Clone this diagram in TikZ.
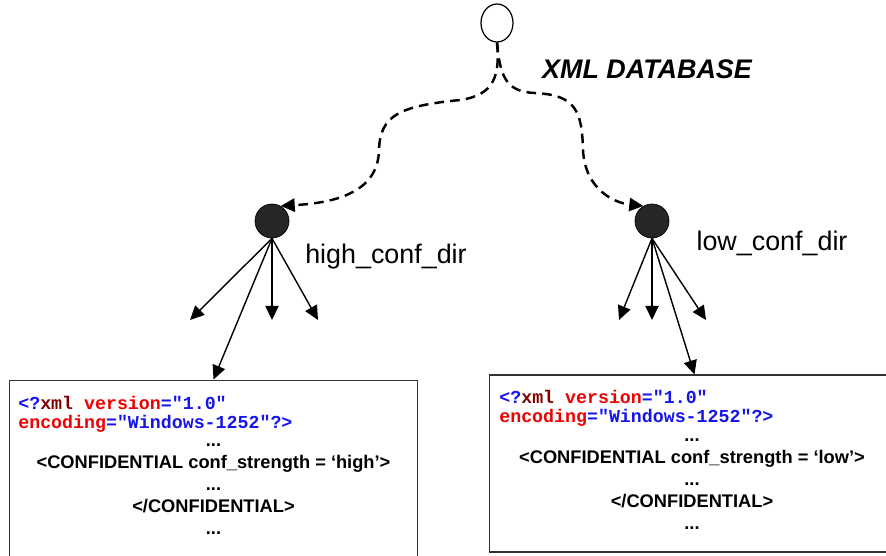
\documentclass[tikz,border=0pt]{standalone}
\usepackage{fontspec}
\setmainfont{Liberation Sans}
\setmonofont{Liberation Mono}
\usepackage{xcolor}
\usepackage{tikz}
\usetikzlibrary{positioning, shapes.geometric, arrows.meta}
\definecolor{xmlblue}{RGB}{20,20,235}
\definecolor{xmlred}{RGB}{240,0,0}
\definecolor{xmlmaroon}{RGB}{128,0,0}

\newcommand{\xmlhead}{%
  \textcolor{xmlblue}{<?}\textcolor{xmlmaroon}{xml} \textcolor{xmlred}{version}\textcolor{xmlblue}{="1.0"}\\
  \textcolor{xmlred}{encoding}\textcolor{xmlblue}{="Windows-1252"?>}}

\begin{document}
\begin{tikzpicture}[x=0.02cm, y=-0.02cm,
  root/.style={ellipse, draw, line width=0.7pt, fill=white,
               minimum width=0.64cm, minimum height=0.76cm, inner sep=0pt},
  dir/.style={circle, draw, fill=black!85, minimum size=0.68cm, inner sep=0pt},
  xmlbox/.style={rectangle, draw=black!80, line width=0.6pt, inner sep=0pt},
  arr/.style={-{Triangle[length=8pt, width=7.5pt]}, line width=0.8pt},
  dasharr/.style={-{Triangle[length=8pt, width=7.5pt]}, line width=1.4pt,
                  dash pattern=on 5.5pt off 3.5pt},
  lbl/.style={font=\fontsize{15.3}{18}\selectfont, inner sep=0pt},
  head/.style={font=\fontsize{10.4}{10.8}\selectfont\ttfamily\bfseries,
               align=left, inner sep=0pt},
  code/.style={font=\fontsize{10.4}{12.5}\selectfont\bfseries,
               align=center, inner sep=0pt}
]
  \useasboundingbox (0,0) rectangle (886,555);
  \clip (0,0) rectangle (886,555);

  % tree
  \node[root] (root) at (497,23) {};
  \node[lbl, font=\fontsize{15.3}{18}\selectfont\bfseries\itshape] (dbname) at (647,69) {XML DATABASE};
  \node[dir] (high) at (272,221) {};
  \node[dir] (low) at (652,221) {};
  \node[lbl] (highname) at (386,257) {high\_conf\_dir};
  \node[lbl] (lowname) at (772,243) {low\_conf\_dir};

  \draw[dasharr] (root.south) .. controls (500,75) and (495,95) .. (460,100)
    .. controls (400,106) and (380,115) .. (379,150)
    .. controls (378,195) and (330,203) .. (high.60);
  \draw[dasharr] (root.south) .. controls (500,75) and (505,92) .. (535,93)
    .. controls (575,95) and (582,110) .. (583,150)
    .. controls (585,190) and (615,203) .. (low.120);

  % xml documents
  \node[xmlbox, minimum width=8.18cm, minimum height=4.4cm] (highbox) at (213.5,490) {};
  \node[xmlbox, minimum width=8.22cm, minimum height=3.54cm] (lowbox) at (694.5,463.5) {};

  \node[head, anchor=north west] (highhead) at (18,396) {\xmlhead};
  \node[code, anchor=south] (highbody) at (213.5,535)
    {...\\<CONFIDENTIAL conf\_strength = ‘high’>\\...\\</CONFIDENTIAL>\\...};
  \node[head, anchor=north west] (lowhead) at (499,390) {\xmlhead};
  \node[code, anchor=south] (lowbody) at (692,530)
    {...\\<CONFIDENTIAL conf\_strength = ‘low’>\\...\\</CONFIDENTIAL>\\...};

  % children
  \coordinate (h1) at (190,320);
  \coordinate (h2) at (272,320);
  \coordinate (h3) at (318,320);
  \coordinate (l1) at (619,320);
  \coordinate (l2) at (652,320);
  \coordinate (l3) at (706,320);

  \draw[arr] (high.south) -- (h1);
  \draw[arr] (high.south) -- (h2);
  \draw[arr] (high.south) -- (h3);
  \draw[arr] (high.south) -- (highbox.north);
  \draw[arr] (low.south) -- (l1);
  \draw[arr] (low.south) -- (l2);
  \draw[arr] (low.south) -- (l3);
  \draw[arr] (low.south) -- (lowbox.north);
\end{tikzpicture}
\end{document}
